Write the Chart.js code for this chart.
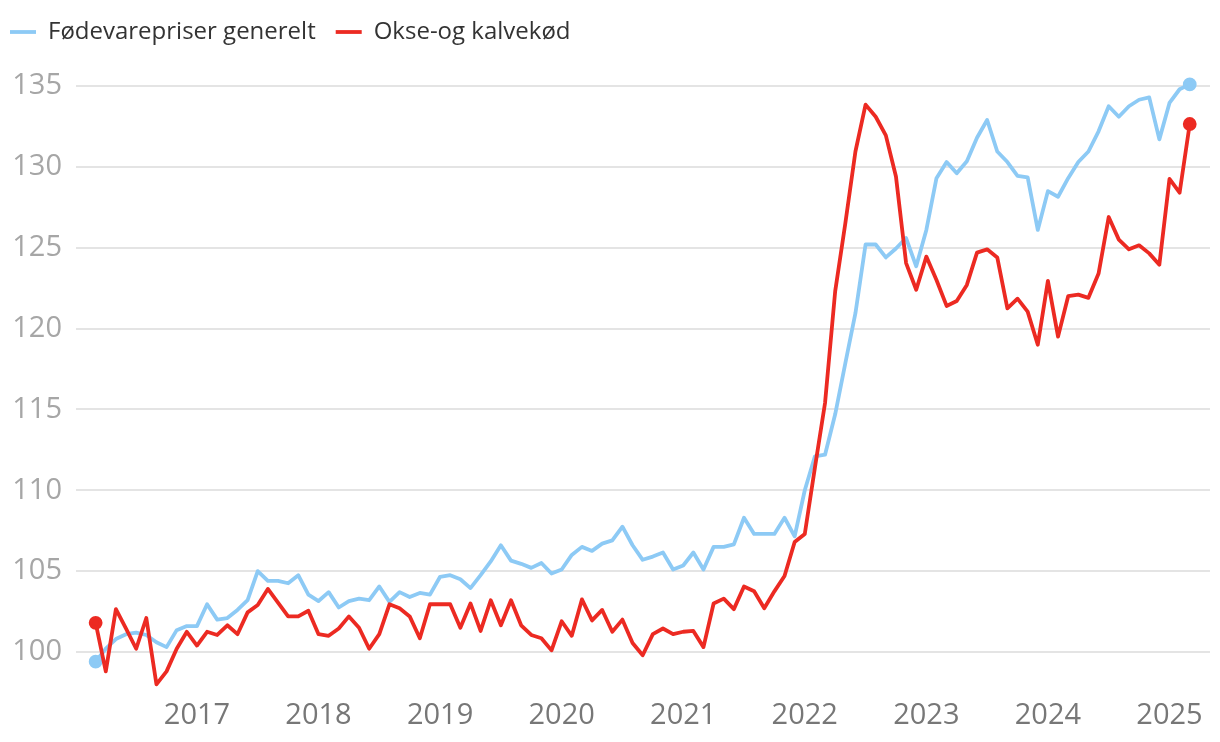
<!DOCTYPE html>
<html><head><meta charset="utf-8">
<script src="https://cdn.jsdelivr.net/npm/chart.js@4"></script>
<style>
html,body{margin:0;padding:0;background:#fff;overflow:hidden;}
#wrap{position:absolute;left:-10px;top:0;width:1230px;height:742px;}
</style></head><body>
<div id="wrap"><canvas id="c"></canvas></div>
<script>
// Monthly categories: March 2016 .. March 2025
const startYear = 2016, startMonth = 3, monthCount = 109;
const months = [];
for (let i = 0; i < monthCount; i++) {
  const m = startMonth - 1 + i;
  const y = startYear + Math.floor(m / 12);
  const mm = (m % 12) + 1;
  months.push(y + '-' + String(mm).padStart(2, '0'));
}

const seriesNames = ['Fødevarepriser generelt', 'Okse-og kalvekød'];

const foodPrices = [
  99.4, 100.2, 100.8, 101.1, 101.2, 101.05, 100.6, 100.3, 101.35, 101.6,
  101.6, 102.95, 102.0, 102.1, 102.6, 103.2, 105.0, 104.4, 104.4, 104.25, 104.75, 103.55,
  103.15, 103.7, 102.75, 103.15, 103.3, 103.2, 104.05, 103.1, 103.7, 103.4, 103.65, 103.55,
  104.65, 104.75, 104.5, 103.95, 104.75, 105.6, 106.6, 105.65, 105.45, 105.2, 105.5, 104.85,
  105.1, 106.0, 106.5, 106.25, 106.7, 106.9, 107.75, 106.6, 105.7, 105.9, 106.15, 105.1,
  105.35, 106.15, 105.1, 106.5, 106.5, 106.65, 108.3, 107.3, 107.3, 107.3, 108.3, 107.15,
  110.0, 112.1, 112.2, 114.7, 117.85, 120.95, 125.2, 125.2, 124.4, 124.95, 125.6, 123.85,
  126.1, 129.3, 130.3, 129.6, 130.35, 131.8, 132.9, 130.95, 130.3, 129.45, 129.35, 126.1,
  128.5, 128.15, 129.3, 130.3, 130.95, 132.2, 133.75, 133.1, 133.75, 134.15, 134.3, 131.7,
  133.95, 134.8, 135.1
];

const beefVeal = [
  101.8, 98.8, 102.65, 101.45, 100.2, 102.1, 98.0, 98.8, 100.2, 101.25,
  100.4, 101.25, 101.05, 101.65, 101.1, 102.45, 102.9, 103.9, 103.05, 102.2, 102.2, 102.55,
  101.1, 101.0, 101.45, 102.2, 101.5, 100.2, 101.1, 102.95, 102.7, 102.2, 100.85, 102.95,
  102.95, 102.95, 101.5, 103.0, 101.3, 103.2, 101.65, 103.2, 101.65, 101.05, 100.85, 100.1,
  101.9, 101.0, 103.25, 101.95, 102.6, 101.25, 102.0, 100.55, 99.8, 101.1, 101.45, 101.1,
  101.25, 101.3, 100.3, 103.0, 103.3, 102.65, 104.05, 103.75, 102.7, 103.75, 104.7, 106.8,
  107.3, 111.4, 115.4, 122.3, 126.5, 130.95, 133.85, 133.1, 131.95, 129.4, 124.05, 122.4,
  124.45, 123.0, 121.4, 121.7, 122.7, 124.7, 124.9, 124.4, 121.25, 121.85, 121.05, 119.0,
  122.95, 119.5, 122.0, 122.1, 121.9, 123.4, 126.9, 125.5, 124.9, 125.15, 124.65, 123.95,
  129.25, 128.4, 132.65
];

const yTickValues = [100, 105, 110, 115, 120, 125, 130, 135];
const yearTickIndex = months.map((m, i) => m.endsWith('-01') ? i : -1).filter(i => i >= 0);

const BLUE = '#8dcaf5';
const RED = '#ec2a22';
const FONT = "'Open Sans', sans-serif";
const endRadius = ctx => (ctx.dataIndex === 0 || ctx.dataIndex === monthCount - 1) ? 5 : 0;

function makeSet(label, values, color, order) {
  return {
    label: label,
    data: values.map((v, i) => ({ x: i, y: v })),
    borderColor: color,
    backgroundColor: color,
    borderWidth: 3.8,
    borderCapStyle: 'round',
    borderJoinStyle: 'round',
    tension: 0,
    pointRadius: endRadius,
    pointHoverRadius: endRadius,
    pointBorderWidth: 3.8,
    pointBorderColor: color,
    pointBackgroundColor: color,
    order: order
  };
}

new Chart(document.getElementById('c'), {
  type: 'line',
  data: {
    datasets: [
      makeSet(seriesNames[0], foodPrices, BLUE, 1),
      makeSet(seriesNames[1], beefVeal, RED, 0)
    ]
  },
  options: {
    responsive: true,
    maintainAspectRatio: false,
    animation: false,
    layout: { padding: { left: 0, right: 10, top: 0, bottom: 5.6 } },
    plugins: {
      tooltip: { enabled: false },
      legend: {
        position: 'top',
        align: 'start',
        labels: {
          usePointStyle: true,
          pointStyle: 'line',
          pointStyleWidth: 26,
          padding: 20,
          color: '#333333',
          font: { family: FONT, size: 24 },
          sort: (a, b) => a.datasetIndex - b.datasetIndex
        }
      }
    },
    scales: {
      x: {
        type: 'linear',
        min: -1.94,
        max: 110,
        grid: { display: false },
        border: { display: false },
        afterBuildTicks: axis => { axis.ticks = yearTickIndex.map(v => ({ value: v })); },
        afterFit: axis => { axis.height = 44; },
        ticks: {
          autoSkip: false,
          maxRotation: 0,
          padding: -2,
          color: '#777777',
          font: { family: FONT, size: 29 },
          callback: v => months[v] ? months[v].slice(0, 4) : ''
        }
      },
      y: {
        min: 97.5,
        max: 136.98,
        afterBuildTicks: axis => { axis.ticks = yTickValues.map(v => ({ value: v })); },
        afterFit: axis => { axis.width = 86; },
        grid: { color: '#e4e4e4', lineWidth: 2, drawTicks: false },
        border: { display: false },
        ticks: {
          padding: 14,
          color: '#a6a6a6',
          font: { family: FONT, size: 29 }
        }
      }
    }
  }
});
</script>
</body></html>
